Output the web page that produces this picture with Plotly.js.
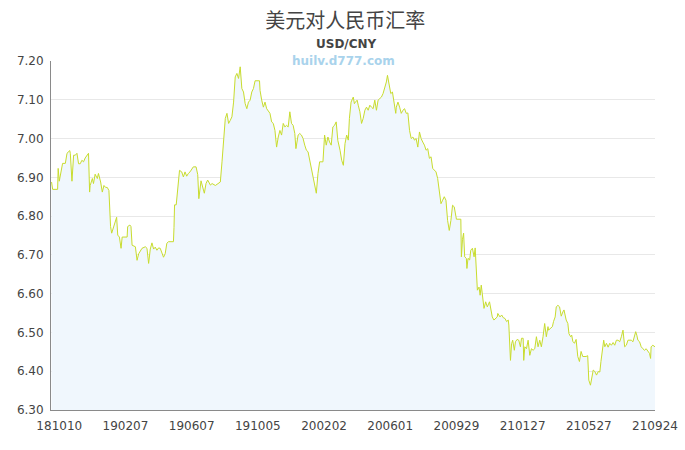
<!DOCTYPE html>
<html>
<head>
<meta charset="utf-8">
<script src="https://cdn.plot.ly/plotly-3.0.1.min.js"></script>
<style>html,body{margin:0;padding:0;background:#fff;}#chart{width:685px;height:450px;}</style>
</head>
<body>
<div id="chart"></div>
<script>
// Days since 2018-09-25 (x axis is one point per calendar day)
const dayIndex = [1,3,12,13,15,20,21,26,29,34,35,38,41,44,47,50,53,56,59,62,66,68,70,71,75,77,80,84,86,90,93,96,99,102,105,106,108,110,114,117,119,121,124,127,129,138,139,143,145,147,153,156,159,165,171,174,177,
180,183,186,189,192,195,198,201,204,207,210,213,222,223,224,227,230,233,237,240,243,246,249,252,258,263,266,268,272,275,278,281,284,289,292,298,304,307,
310,313,316,319,322,325,328,331,334,337,340,343,346,349,352,355,358,361,364,367,370,378,379,382,385,388,391,394,397,400,403,406,409,412,415,418,421,424,427,430,433,436,439,442,444,448,451,454,457,460,463,466,469,472,475,478,481,484,487,493,496,499,502,505,508,511,514,517,520,
524,527,530,533,536,539,541,544,548,550,552,555,557,560,563,566,569,572,575,578,581,584,587,590,593,596,599,602,605,608,610,613,616,619,622,625,626,629,632,635,638,641,644,647,650,653,656,659,662,665,668,671,674,677,680,683,686,689,692,695,698,701,704,707,710,713,716,719,722,725,728,731,734,735,743,744,746,748,750,753,754,756,759,761,764,767,769,771,773,776,778,780,782,785,788,791,795,797,
800,803,806,809,810,814,817,820,823,826,829,830,833,835,837,840,842,845,848,851,853,856,857,859,862,865,868,871,874,877,880,883,886,889,892,895,898,901,902,905,909,911,914,916,919,922,925,928,930,932,934,937,939,942,944,946,949,952,955,958,961,964,967,970,973,975,978,980,983,986,989,992,995,997,999,
1002,1004,1007,1010,1013,1016,1019,1022,1025,1028,1031,1034,1037,1040,1043,1046,1052,1055,1060,1062,1064,1067,1070,1073,1076,1079,1082,1085,1087,1088,1091,1095];

const rate = [6.888,6.869,6.869,6.923,6.890,6.925,6.936,6.936,6.962,6.969,6.962,6.890,6.957,6.957,6.962,6.935,6.935,6.944,6.940,6.950,6.958,6.962,6.862,6.879,6.897,6.884,6.908,6.897,6.910,6.888,6.862,6.879,6.874,6.874,6.866,6.830,6.773,6.756,6.773,6.786,6.797,6.751,6.746,6.717,6.746,6.746,6.773,6.777,6.773,6.725,6.721,6.686,6.703,6.717,6.721,6.717,6.678,
6.715,6.731,6.715,6.720,6.712,6.718,6.717,6.703,6.694,6.703,6.730,6.734,6.734,6.771,6.829,6.829,6.879,6.918,6.914,6.901,6.914,6.903,6.910,6.914,6.927,6.927,6.907,6.845,6.891,6.876,6.859,6.884,6.893,6.880,6.884,6.879,6.884,6.888,
6.940,6.987,7.052,7.065,7.039,7.047,7.056,7.094,7.159,7.168,7.155,7.185,7.129,7.120,7.090,7.077,7.094,7.099,7.120,7.129,7.149,7.149,7.124,7.099,7.081,7.094,7.077,7.071,7.065,7.043,7.039,7.021,6.978,7.004,7.021,7.009,7.039,7.030,7.034,7.030,7.069,7.039,7.034,7.013,6.974,7.009,7.013,7.009,7.000,6.983,6.970,6.966,6.944,6.923,6.901,6.884,6.859,6.910,6.940,6.940,7.009,6.983,7.004,6.991,6.983,7.030,7.034,7.043,6.995,
6.970,6.944,6.931,6.987,7.009,6.996,7.052,7.094,7.107,7.090,7.094,7.099,7.086,7.069,7.039,7.052,7.073,7.081,7.073,7.086,7.081,7.077,7.099,7.073,7.099,7.103,7.107,7.116,7.129,7.146,7.163,7.142,7.116,7.120,7.090,7.065,7.081,7.094,7.081,7.065,7.073,7.077,7.065,7.066,7.021,7.000,7.004,6.996,7.000,6.978,7.017,7.000,6.991,6.983,6.970,6.974,6.949,6.953,6.923,6.918,6.914,6.897,6.862,6.832,6.841,6.850,6.841,6.789,6.763,6.789,6.828,6.824,6.800,6.792,6.792,6.695,6.740,6.756,6.695,6.691,6.665,6.691,6.687,6.712,6.717,6.695,6.718,6.652,6.609,6.617,6.596,6.622,6.592,6.562,6.579,6.566,6.579,6.562,
6.540,6.532,6.536,6.540,6.549,6.540,6.545,6.538,6.536,6.528,6.532,6.519,6.428,6.471,6.480,6.454,6.476,6.482,6.480,6.463,6.485,6.485,6.428,6.463,6.458,6.480,6.441,6.458,6.454,6.458,6.489,6.463,6.480,6.463,6.489,6.523,6.489,6.515,6.506,6.510,6.515,6.528,6.540,6.566,6.570,6.566,6.542,6.553,6.558,6.545,6.532,6.523,6.497,6.489,6.493,6.477,6.472,6.482,6.438,6.425,6.451,6.438,6.438,6.438,6.440,6.377,6.364,6.377,6.403,6.399,6.390,6.399,6.398,6.425,6.454,
6.480,6.463,6.472,6.462,6.472,6.467,6.474,6.467,6.480,6.480,6.476,6.489,6.506,6.463,6.467,6.480,6.480,6.476,6.502,6.493,6.480,6.476,6.463,6.458,6.454,6.458,6.450,6.446,6.433,6.463,6.467,6.463];

const tickDays = [15,135,255,375,495,615,735,855,975,1095];
const tickLabels = ['181010','190207','190607','191005','200202','200601','200929','210127','210527','210924'];
const yTicks = [6.30,6.40,6.50,6.60,6.70,6.80,6.90,7.00,7.10,7.20];

const trace = {
  x: dayIndex, y: rate, type: 'scatter', mode: 'lines',
  line: {color: '#c8dc2e', width: 1},
  fill: 'tozeroy', fillcolor: 'rgba(240,247,253,1)',
  hoverinfo: 'x+y'
};

const layout = {
  width: 685, height: 450,
  margin: {l: 51, r: 30, t: 61, b: 40, pad: 0},
  paper_bgcolor: '#ffffff', plot_bgcolor: '#ffffff',
  showlegend: false,
  font: {family: 'DejaVu Sans, sans-serif', size: 12, color: '#555'},
  title: {text: '美元对人民币汇率', x: 0.504, xanchor: 'center', y: 0.953, yanchor: 'middle', yref: 'container',
          font: {family: 'Noto Sans CJK SC, sans-serif', size: 20, color: '#444'}},
  xaxis: {range: [0, 1095], tickmode: 'array', tickvals: tickDays, ticktext: tickLabels,
          showgrid: false, zeroline: false, showline: true, linecolor: '#8a8a8a', linewidth: 1,
          ticks: '', ticklabelstandoff: 5, tickfont: {size: 12, color: '#444'}, fixedrange: true},
  yaxis: {range: [6.3, 7.2], tickmode: 'array', tickvals: yTicks, ticktext: yTicks.map(v => v.toFixed(2)),
          showgrid: true, gridcolor: '#e8e8e8', gridwidth: 1, zeroline: false,
          showline: true, linecolor: '#8a8a8a', linewidth: 1,
          ticks: '', ticklabelstandoff: 4, tickfont: {size: 12, color: '#444'}, fixedrange: true},
  annotations: [
    {text: '<b>USD/CNY</b>', xref: 'paper', yref: 'paper', x: 0.49, y: 1.0, xanchor: 'center', yanchor: 'bottom',
     yshift: 8, showarrow: false, font: {family: 'DejaVu Sans, sans-serif', size: 12, color: '#444'}},
    {text: '<b>huilv.d777.com</b>', xref: 'paper', yref: 'paper', x: 0.484, y: 1.0, xanchor: 'center', yanchor: 'middle',
     showarrow: false, font: {family: 'DejaVu Sans, sans-serif', size: 12, color: '#a9d3ec'}}
  ]
};

Plotly.newPlot('chart', [trace], layout, {displayModeBar: false, staticPlot: true});
</script>
</body>
</html>
